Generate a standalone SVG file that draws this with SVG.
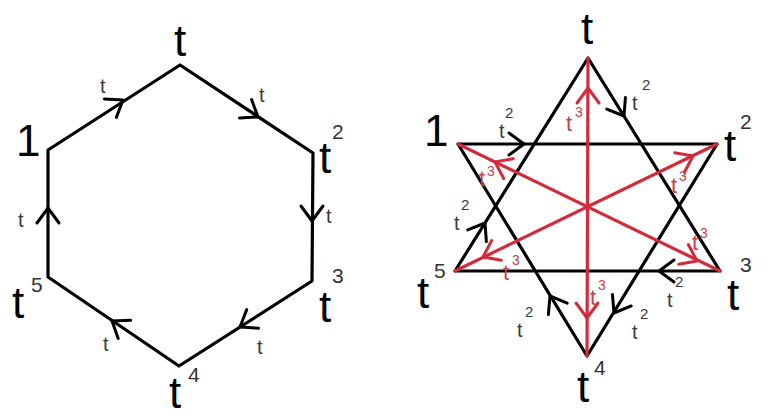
<svg xmlns="http://www.w3.org/2000/svg" xmlns:xlink="http://www.w3.org/1999/xlink" width="776" height="418" viewBox="0 0 776 418">
<style>
.ln{fill:none;stroke-width:3.2;stroke-linecap:round;stroke-linejoin:round}
.bk{stroke:#000}
.rd{stroke:#d42b3b}
.ch{fill:none;stroke-width:3;stroke-linecap:round;stroke-linejoin:round}
.big{font-family:"Liberation Sans",Arial,sans-serif;font-size:44px;fill:#000}
.sup{font-family:"Liberation Sans",Arial,sans-serif;font-size:21px;fill:#333}
.el{font-family:"Liberation Sans",Arial,sans-serif;font-size:20px;fill:#3a3a3a}
.es{font-family:"Liberation Sans",Arial,sans-serif;font-size:15px;fill:#3a3a3a}
.rl{font-family:"Liberation Sans",Arial,sans-serif;font-size:22px;fill:#c8404a}
.rs{font-family:"Liberation Sans",Arial,sans-serif;font-size:14px;fill:#c8404a}
</style>
<defs>
<path id="chev" d="M-15,-11 L0,0 L-15,11"/>
</defs>
<rect width="776" height="418" fill="#fff"/>
<g id="connectors">
  <g id="hexagon-edges">
    <polygon class="ln bk" points="48,150 180,65 313,153 312,281 179,366 48,277"/>
    <use href="#chev" class="ch bk" transform="translate(123,100) rotate(-32.8)"/>
    <use href="#chev" class="ch bk" transform="translate(258,117) rotate(33.5)"/>
    <use href="#chev" class="ch bk" transform="translate(312,221) rotate(90)"/>
    <use href="#chev" class="ch bk" transform="translate(240,327) rotate(147.4)"/>
    <use href="#chev" class="ch bk" transform="translate(112,321) rotate(-145.8)"/>
    <use href="#chev" class="ch bk" transform="translate(48,208) rotate(-90)"/>
    <text class="el" x="100" y="93">t</text>
    <text class="el" x="259" y="102">t</text>
    <text class="el" x="326" y="223">t</text>
    <text class="el" x="257" y="354">t</text>
    <text class="el" x="103" y="351">t</text>
    <text class="el" x="18" y="227">t</text>
  </g>
  <g id="star-black-edges">
    <polygon class="ln bk" points="458,144 717,144 587,356"/>
    <polygon class="ln bk" points="588,58 720,271 455,271"/>
    <use href="#chev" class="ch bk" transform="translate(524,144) rotate(0)"/>
    <use href="#chev" class="ch bk" transform="translate(624,116) rotate(58.2)"/>
    <use href="#chev" class="ch bk" transform="translate(659,271) rotate(180)"/>
    <use href="#chev" class="ch bk" transform="translate(614,313) rotate(121.5)"/>
    <use href="#chev" class="ch bk" transform="translate(550,296) rotate(-121.3)"/>
    <use href="#chev" class="ch bk" transform="translate(485,223) rotate(-58)"/>
    <text class="el" x="499" y="138">t</text><text class="es" x="505" y="118">2</text>
    <text class="el" x="632" y="110">t</text><text class="es" x="642" y="90">2</text>
    <text class="el" x="454" y="230">t</text><text class="es" x="461" y="210">2</text>
    <text class="el" x="667" y="307">t</text><text class="es" x="675" y="287">2</text>
    <text class="el" x="632" y="339">t</text><text class="es" x="640" y="319">2</text>
    <text class="el" x="517" y="337">t</text><text class="es" x="525" y="317">2</text>
  </g>
  <g id="star-red-edges">
    <line class="ln rd" x1="588" y1="58" x2="587" y2="356"/>
    <line class="ln rd" x1="458" y1="144" x2="720" y2="271"/>
    <line class="ln rd" x1="717" y1="144" x2="455" y2="271"/>
    <use href="#chev" class="ch rd" transform="translate(588,88) rotate(-90)"/>
    <use href="#chev" class="ch rd" transform="translate(587,318) rotate(90)"/>
    <use href="#chev" class="ch rd" transform="translate(495,162) rotate(-154.1)"/>
    <use href="#chev" class="ch rd" transform="translate(697,261) rotate(25.9)"/>
    <use href="#chev" class="ch rd" transform="translate(693,156) rotate(-25.9)"/>
    <use href="#chev" class="ch rd" transform="translate(483,257) rotate(154.1)"/>
    <text class="rl" x="566" y="131">t</text><text class="rs" x="575" y="117">3</text>
    <text class="rl" x="479" y="186">t</text><text class="rs" x="487" y="176">3</text>
    <text class="rl" x="671" y="193">t</text><text class="rs" x="679" y="181">3</text>
    <text class="rl" x="692" y="250">t</text><text class="rs" x="700" y="238">3</text>
    <text class="rl" x="503" y="280">t</text><text class="rs" x="512" y="265">3</text>
    <text class="rl" x="590" y="305">t</text><text class="rs" x="598" y="290">3</text>
  </g>
</g>
<g id="hex-node-1"><text class="big" x="16" y="156">1</text></g>
<g id="hex-node-t"><text class="big" x="180" y="56" text-anchor="middle">t</text></g>
<g id="hex-node-t2"><text class="big" x="319" y="173">t</text><text class="sup" x="332" y="139">2</text></g>
<g id="hex-node-t3"><text class="big" x="319" y="322">t</text><text class="sup" x="332" y="283">3</text></g>
<g id="hex-node-t4"><text class="big" x="169" y="408">t</text><text class="sup" x="188" y="382">4</text></g>
<g id="hex-node-t5"><text class="big" x="12" y="318">t</text><text class="sup" x="31" y="292">5</text></g>
<g id="star-node-1"><text class="big" x="424" y="146">1</text></g>
<g id="star-node-t"><text class="big" x="587" y="44" text-anchor="middle">t</text></g>
<g id="star-node-t2"><text class="big" x="724" y="161">t</text><text class="sup" x="740" y="129">2</text></g>
<g id="star-node-t3"><text class="big" x="727" y="310">t</text><text class="sup" x="740" y="272">3</text></g>
<g id="star-node-t4"><text class="big" x="577" y="402">t</text><text class="sup" x="594" y="375">4</text></g>
<g id="star-node-t5"><text class="big" x="417" y="308">t</text><text class="sup" x="434" y="278">5</text></g>
</svg>
